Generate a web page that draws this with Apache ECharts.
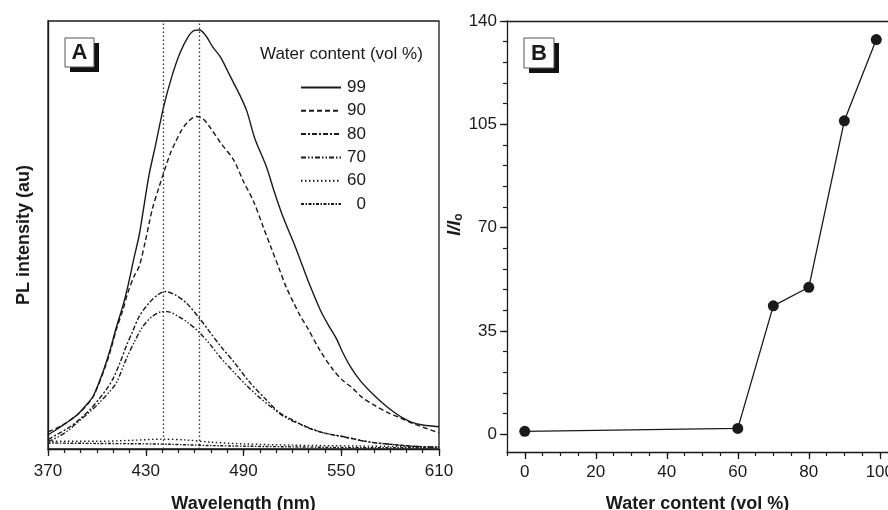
<!DOCTYPE html>
<html>
<head>
<meta charset="utf-8">
<script src="https://cdn.jsdelivr.net/npm/echarts@6/dist/echarts.min.js"></script>
<style>
  html, body { margin: 0; padding: 0; background: #fff; }
  #main { width: 888px; height: 510px; }
</style>
</head>
<body>
<div id="main"></div>
<script>
// 图A：PL 光谱（波长 nm, 强度 au）
var s99 = [[370,3.3],[375,4.5],[380,5.8],[388,8.0],[394,10.5],[398,12.5],[404,18.3],[408,23],[412,28.5],[416,33.5],[419,38],[423,45],[426,50],[429,57],[432,64],[436,71],[441,80],[446,87],[451,92.5],[456,96.3],[460,97.8],[463,97.9],[467,96.5],[471,94],[476,91.5],[480,88.5],[484,85.5],[488,82.5],[492,79],[497,72.5],[504,66],[509,60],[514,54.5],[521,48],[526,43],[531,38],[537,32.6],[542,29],[547,25.8],[551,22.5],[556,19],[562,15.8],[570,12.6],[576,10.5],[582,8.7],[588,7.2],[593,6.3],[600,5.6],[610,5.2]];
var s90 = [[370,4.0],[375,4.8],[380,5.8],[388,8.0],[394,10.3],[398,12.4],[404,18],[408,22.5],[412,28],[416,32.5],[419,36.5],[423,40.5],[426,42.7],[430,49],[434,56],[438,61],[441,64.5],[445,69],[448,71.5],[452,74.5],[456,76.5],[461,77.7],[465,77.2],[469,75.4],[476,71.5],[484,67.5],[490,62.5],[496,58],[502,52],[507,47],[512,42],[516,38],[521,34],[525,31],[529,28.5],[537,23],[545,18.5],[551,16],[557,14.2],[563,12],[570,10.3],[578,8.6],[586,7.3],[595,5.8],[603,4.7],[610,3.8]];
var s80 = [[370,2.2],[376,3.5],[382,4.8],[389,6.8],[396,9.3],[402,12],[406,14],[410,16.5],[414,20],[418,24],[422,27.5],[426,31],[432,34.1],[437,35.9],[442,36.8],[448,36],[455,34.1],[463,30.5],[469,27.5],[476,24],[484,20.4],[494,15.5],[504,11.5],[512,8.5],[520,6.8],[528,5.2],[537,4.0],[545,3.3],[553,2.8],[562,2.0],[570,1.5],[583,1.0],[596,0.6],[610,0.4]];
var s70 = [[370,1.7],[376,2.8],[382,4.2],[389,6.5],[396,8.8],[402,11],[408,13.5],[412,15.5],[418,21],[423,25],[428,28.5],[434,31],[439,32],[443,32.1],[450,31],[456,29.5],[463,27.2],[470,24.2],[476,21.3],[484,18],[492,14.8],[500,12],[508,9.5],[516,7.3],[525,5.8],[537,4.0],[545,3.3],[553,2.7],[562,2.0],[570,1.5],[583,1.0],[596,0.6],[610,0.4]];
var s60 = [[370,1.8],[400,1.8],[420,2.0],[440,2.3],[455,2.1],[470,1.6],[490,1.2],[520,0.9],[560,0.7],[610,0.5]];
var s0 = [[370,1.4],[400,1.3],[430,1.2],[445,1.1],[470,0.8],[520,0.5],[570,0.3],[610,0.3]];
var peakLines = [441, 463];

// 图B：I/I0 随含水量变化
var waterContent = [0, 60, 70, 80, 90, 99];
var ratio = [1, 2, 43.5, 49.8, 106.2, 133.7];

// 刻度
var aLabels = [370, 430, 490, 550, 610];
var aMinor = [370,380,390,400,410,420,430,440,450,460,470,480,490,500,510,520,530,540,550,560,570,580,590,600,610];
var bxLabels = [0, 20, 40, 60, 80, 100];
var bxMinor = [-5,0,5,10,15,20,25,30,35,40,45,50,55,60,65,70,75,80,85,90,95,100];
var byLabels = [0, 35, 70, 105, 140];
var byMinor = [0,7,14,21,28,35,42,49,56,63,70,77,84,91,98,105,112,119,126,133,140];

var legendNames = ['99', '90', '80', '70', '60', '0'];

var ink = '#1a1a1a';
var axisLine = { show: true, onZero: false, lineStyle: { color: ink, width: 1.3 } };

function lineSeries(name, data, type) {
    return {
        name: name,
        type: 'line',
        xAxisIndex: 0,
        yAxisIndex: 0,
        data: data,
        symbol: 'none',
        smooth: 0.3,
        itemStyle: { color: ink },
        lineStyle: { color: ink, width: 1.4, type: type }
    };
}

var myChart = echarts.init(document.getElementById('main'));

var series = [
    lineSeries('99', s99, 'solid'),
    lineSeries('90', s90, [5, 3]),
    lineSeries('80', s80, [5, 2, 2, 2]),
    lineSeries('70', s70, [5, 2, 1.5, 2, 1.5, 2]),
    lineSeries('60', s60, [1.5, 2.5]),
    lineSeries('0', s0, [3, 1.5, 1.5, 1.5])
];
// 两条竖直虚线
series[0].markLine = {
    silent: true,
    symbol: 'none',
    label: { show: false },
    lineStyle: { color: '#333', width: 1.3, type: [1.5, 2.5] },
    data: peakLines.map(function (v) { return { xAxis: v }; })
};
series.push({
    name: 'I/I0',
    type: 'line',
    xAxisIndex: 2,
    yAxisIndex: 1,
    data: waterContent.map(function (w, i) { return [w, ratio[i]]; }),
    symbol: 'circle',
    symbolSize: 11,
    itemStyle: { color: ink },
    lineStyle: { color: ink, width: 1.3 }
});

var option = {
    animation: false,
    backgroundColor: '#fff',
    textStyle: { fontFamily: 'Liberation Sans', color: ink },
    title: {
        text: 'Water content (vol %)',
        left: 260,
        top: 46,
        padding: 0,
        textStyle: { fontSize: 17, fontWeight: 'normal', color: ink, fontFamily: 'Liberation Sans' }
    },
    legend: {
        data: legendNames,
        orient: 'vertical',
        left: 300,
        top: 79,
        padding: 0,
        itemWidth: 40,
        itemHeight: 14,
        itemGap: 6.3,
        itemStyle: { opacity: 0 },
        formatter: '{n|{name}}',
        textStyle: {
            fontSize: 17,
            color: ink,
            rich: { n: { width: 20, align: 'right', fontSize: 17, fontFamily: 'Liberation Sans' } }
        }
    },
    grid: [
        { left: 48, top: 21, width: 391, height: 428, outerBoundsMode: 'none', containLabel: false,
          show: true, borderColor: ink, borderWidth: 1.3, backgroundColor: 'transparent' },
        { left: 507, top: 21, width: 381, height: 431, outerBoundsMode: 'none', containLabel: false, show: false }
    ],
    xAxis: [
        {
            gridIndex: 0, type: 'value', min: 370, max: 610, position: 'bottom',
            axisLine: axisLine,
            axisTick: { show: true, length: 7, customValues: aLabels, lineStyle: { color: ink, width: 1.3 } },
            axisLabel: { customValues: aLabels, fontSize: 17, margin: 14, color: ink },
            splitLine: { show: false },
            name: 'Wavelength (nm)', nameLocation: 'middle', nameGap: 46,
            nameTextStyle: { fontSize: 18, fontWeight: 'bold', color: ink }
        },
        {
            gridIndex: 0, type: 'value', min: 370, max: 610, position: 'bottom',
            axisLine: { show: false, onZero: false },
            axisTick: { show: true, length: 4, customValues: aMinor, lineStyle: { color: ink, width: 1.2 } },
            axisLabel: { show: false },
            splitLine: { show: false }
        },
        {
            gridIndex: 1, type: 'value', min: -5, max: 102.3, position: 'bottom',
            axisLine: axisLine,
            axisTick: { show: true, length: 7, customValues: bxLabels, lineStyle: { color: ink, width: 1.3 } },
            axisLabel: { customValues: bxLabels, fontSize: 17, margin: 12, color: ink },
            splitLine: { show: false },
            name: 'Water content (vol %)', nameLocation: 'middle', nameGap: 43,
            nameTextStyle: { fontSize: 18, fontWeight: 'bold', color: ink }
        },
        {
            gridIndex: 1, type: 'value', min: -5, max: 102.3, position: 'bottom',
            axisLine: { show: false, onZero: false },
            axisTick: { show: true, length: 4, customValues: bxMinor, lineStyle: { color: ink, width: 1.2 } },
            axisLabel: { show: false },
            splitLine: { show: false }
        },
        {
            // 上边框
            gridIndex: 1, type: 'value', min: -5, max: 102.3, position: 'top',
            axisLine: axisLine,
            axisTick: { show: false },
            axisLabel: { show: false },
            splitLine: { show: false }
        }
    ],
    yAxis: [
        {
            gridIndex: 0, type: 'value', min: 0, max: 100, position: 'left',
            axisLine: axisLine,
            axisTick: { show: false },
            axisLabel: { show: false },
            splitLine: { show: false },
            name: 'PL intensity (au)', nameLocation: 'middle', nameGap: 15,
            nameTextStyle: { fontSize: 18, fontWeight: 'bold', color: ink }
        },
        {
            gridIndex: 1, type: 'value', min: -6, max: 140, position: 'left',
            axisLine: axisLine,
            axisTick: { show: true, length: 7, customValues: byLabels, lineStyle: { color: ink, width: 1.3 } },
            axisLabel: { customValues: byLabels, fontSize: 17, margin: 10, color: ink },
            splitLine: { show: false },
            name: '{i|I/I}{s|o}', nameLocation: 'middle', nameGap: 41,
            nameTextStyle: {
                padding: [0, 0, 0, 24],
                rich: {
                    i: { fontSize: 18, fontWeight: 'bold', fontStyle: 'italic', color: ink, fontFamily: 'Liberation Sans' },
                    s: { fontSize: 12, fontWeight: 'bold', color: ink, fontFamily: 'Liberation Sans', verticalAlign: 'bottom', padding: [8, 0, 0, 0] }
                }
            }
        },
        {
            gridIndex: 1, type: 'value', min: -6, max: 140, position: 'left',
            axisLine: { show: false, onZero: false },
            axisTick: { show: true, length: 4, customValues: byMinor, lineStyle: { color: ink, width: 1.2 } },
            axisLabel: { show: false },
            splitLine: { show: false }
        }
    ],
    graphic: [
        { type: 'rect', shape: { x: 70, y: 43, width: 29, height: 29 }, style: { fill: '#111' } },
        { type: 'rect', shape: { x: 65, y: 38, width: 29, height: 29 }, style: { fill: '#fff', stroke: '#555', lineWidth: 1 } },
        { type: 'text', x: 79.5, y: 53, style: { text: 'A', font: 'bold 22px "Liberation Sans"', fill: ink, align: 'center', verticalAlign: 'middle' } },
        { type: 'rect', shape: { x: 529, y: 43, width: 30, height: 30 }, style: { fill: '#111' } },
        { type: 'rect', shape: { x: 524, y: 38, width: 30, height: 30 }, style: { fill: '#fff', stroke: '#555', lineWidth: 1 } },
        { type: 'text', x: 539, y: 53.5, style: { text: 'B', font: 'bold 22px "Liberation Sans"', fill: ink, align: 'center', verticalAlign: 'middle' } }
    ],
    series: series
};

myChart.setOption(option);
</script>
</body>
</html>
